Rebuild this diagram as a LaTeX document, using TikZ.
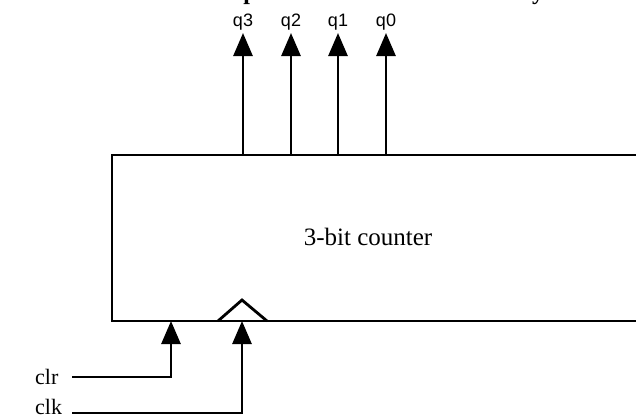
\documentclass[tikz,border=0pt]{standalone}
\usepackage{fontspec}
\setmainfont{Liberation Serif}
\newfontfamily\qfont{Liberation Sans}
\usetikzlibrary{arrows.meta}
\begin{document}
\begin{tikzpicture}[x=1pt,y=-1pt,
  wire/.style={line width=2.8pt,line cap=rect},
  sig/.style={wire,-{Triangle[length=23pt,width=19pt]}},
  qlab/.style={font=\qfont\fontsize{18}{18}\selectfont,inner sep=0pt,anchor=base},
  inlab/.style={font=\fontsize{22}{22}\selectfont,inner sep=0pt,anchor=base west}]
\useasboundingbox (0,0) rectangle (636,418);
\begin{scope}
\clip (0,0) rectangle (636,418);
% clipped title fragments
\node[font=\bfseries\fontsize{24}{24}\selectfont,inner sep=0pt,anchor=base] (tp) at (250,-1) {p};
\node[font=\bfseries\fontsize{24}{24}\selectfont,inner sep=0pt,anchor=base] (ty) at (538,-1) {y};
% counter box (extends beyond right edge)
\draw[wire] (660,155) -- (112,155) -- (112,321) -- (660,321);
\node[font=\fontsize{25}{25}\selectfont,inner sep=0pt,anchor=base] (ctr) at (368,245) {3-bit counter};
% clock triangle
\coordinate (tl) at (218,321);
\coordinate (tt) at (242,300);
\coordinate (tr) at (267,321);
\draw[line width=2.8pt,line join=miter] (tl) -- (tt) -- (tr);
% outputs
\foreach \x/\n in {243/3,291/2,338/1,386/0}{
  \coordinate (b\n) at (\x,155);
  \coordinate (t\n) at (\x,33);
  \draw[sig] (b\n) -- (t\n);
  \node[qlab] (q\n) at (\x,26) {q\n};
}
% inputs
\coordinate (clrin) at (171,321);
\coordinate (clkin) at (242,321);
\coordinate (clrc) at (171,377);
\coordinate (clkc) at (242,413);
\coordinate (clrs) at (73,377);
\coordinate (clks) at (73,413);
\draw[sig] (clrs) -- (clrc) -- (clrin);
\draw[sig] (clks) -- (clkc) -- (clkin);
\node[inlab] (clr) at (35,384) {clr};
\node[inlab] (clk) at (35,414) {clk};
\end{scope}
\end{tikzpicture}
\end{document}
